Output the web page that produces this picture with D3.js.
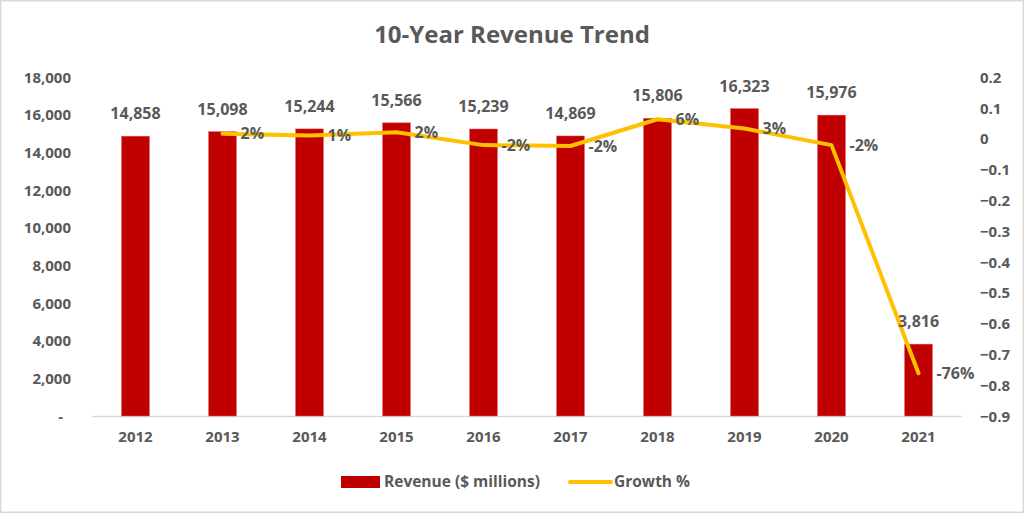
<!DOCTYPE html>
<html>
<head>
<meta charset="utf-8">
<script src="https://cdn.jsdelivr.net/npm/d3@7"></script>
<style>
  body { margin: 0; background: #fff; }
  svg { display: block; }
  text { font-family: "Open Sans", "Liberation Sans", sans-serif; fill: #595959; font-weight: bold; }
</style>
</head>
<body>
<svg id="chart" width="1024" height="513"></svg>
<script>
const years = ["2012","2013","2014","2015","2016","2017","2018","2019","2020","2021"];
const revenue = [14858, 15098, 15244, 15566, 15239, 14869, 15806, 16323, 15976, 3816];
const growth = [null, 0.016, 0.010, 0.021, -0.021, -0.024, 0.063, 0.033, -0.021, -0.761];
const growthLabels = [null, "2%", "1%", "2%", "-2%", "-2%", "6%", "3%", "-2%", "-76%"];
const leftTicks = [0, 2000, 4000, 6000, 8000, 10000, 12000, 14000, 16000, 18000];
const rightTicks = [-0.9, -0.8, -0.7, -0.6, -0.5, -0.4, -0.3, -0.2, -0.1, 0, 0.1, 0.2];

const svg = d3.select("#chart");
const W = 1024, H = 513;
const m = {left: 92, right: 962, top: 77, bottom: 416};

svg.append("rect").attr("x", 0.5).attr("y", 0.5).attr("width", W - 1).attr("height", H - 1)
  .attr("fill", "#fff").attr("stroke", "#d9d9d9").attr("stroke-width", 2);

const x = d3.scaleBand().domain(years).range([m.left, m.right]).paddingInner(0.68).paddingOuter(0.34);
const yL = d3.scaleLinear().domain([0, 18000]).range([m.bottom, m.top]);
const yR = d3.scaleLinear().domain([-0.9, 0.2]).range([m.bottom, m.top]);

// title
svg.append("text").attr("x", 512).attr("y", 43).attr("text-anchor", "middle")
  .style("font-size", "24px")
  .text("10-Year Revenue Trend");

// left axis
const fmt = d3.format(",");
const gL = svg.append("g").attr("transform", `translate(71,0)`)
  .call(d3.axisLeft(yL).tickValues(leftTicks).tickSize(0).tickPadding(0)
    .tickFormat(d => d === 0 ? "-" : fmt(d)));
gL.select(".domain").remove();
gL.selectAll("text").style("font-size", "15px").style("font-family", null).attr("fill", "#595959").attr("dy", "0.35em");
gL.selectAll(".tick").filter(d => d === 0).select("text").attr("dx", "-8px");

// right axis
const gR = svg.append("g").attr("transform", `translate(980,0)`)
  .call(d3.axisRight(yR).tickValues(rightTicks).tickSize(0).tickPadding(0)
    .tickFormat(d => d3.format("")(Math.round(d * 10) / 10)));
gR.select(".domain").remove();
gR.selectAll("text").style("font-size", "15px").style("font-family", null).attr("fill", "#595959").attr("dy", "0.35em");

// baseline
svg.append("line").attr("x1", m.left).attr("x2", m.right).attr("y1", m.bottom + 0.5).attr("y2", m.bottom + 0.5)
  .attr("stroke", "#d9d9d9").attr("stroke-width", 1.5);

// bottom axis
const gB = svg.append("g").attr("transform", `translate(0,${m.bottom})`)
  .call(d3.axisBottom(x).tickSize(0).tickPadding(0));
gB.select(".domain").remove();
gB.selectAll("text").style("font-size", "15px").style("font-family", null).attr("fill", "#595959").attr("dy", "26px");

// bars
svg.append("g").selectAll("rect").data(years).join("rect")
  .attr("x", d => x(d)).attr("width", x.bandwidth())
  .attr("y", (d, i) => yL(revenue[i])).attr("height", (d, i) => yL(0) - yL(revenue[i]))
  .attr("fill", "#C00000").attr("stroke", "#e06060").attr("stroke-width", 0.5);

// line
const pts = years.map((d, i) => ({year: d, g: growth[i], lab: growthLabels[i]})).filter(p => p.g !== null);
const line = d3.line().x(p => x(p.year) + x.bandwidth() / 2).y(p => yR(p.g));
svg.append("path").datum(pts).attr("d", line).attr("fill", "none")
  .attr("stroke", "#FFC000").attr("stroke-width", 4).attr("stroke-linejoin", "round").attr("stroke-linecap", "round");

// revenue labels
svg.append("g").selectAll("text").data(years).join("text")
  .attr("x", d => x(d) + x.bandwidth() / 2).attr("y", (d, i) => yL(revenue[i]) - 17)
  .attr("text-anchor", "middle").style("font-size", "16px").text((d, i) => fmt(revenue[i]));

// growth labels
svg.append("g").selectAll("text").data(pts).join("text")
  .attr("x", p => x(p.year) + x.bandwidth() / 2 + 18).attr("y", p => yR(p.g)).attr("dy", "0.35em")
  .style("font-size", "16px").text(p => p.lab);

// legend
const lg = svg.append("g").attr("transform", "translate(0,482)");
lg.append("rect").attr("x", 341).attr("y", -6).attr("width", 39).attr("height", 12).attr("fill", "#C00000");
lg.append("text").attr("x", 384).attr("y", 0).attr("dy", "0.35em").style("font-size", "15.5px").text("Revenue ($ millions)");
lg.append("line").attr("x1", 570).attr("x2", 611).attr("y1", 0).attr("y2", 0).attr("stroke", "#FFC000").attr("stroke-width", 4).attr("stroke-linecap", "round");
lg.append("text").attr("x", 614).attr("y", 0).attr("dy", "0.35em").style("font-size", "15.5px").text("Growth %");
</script>
</body>
</html>
